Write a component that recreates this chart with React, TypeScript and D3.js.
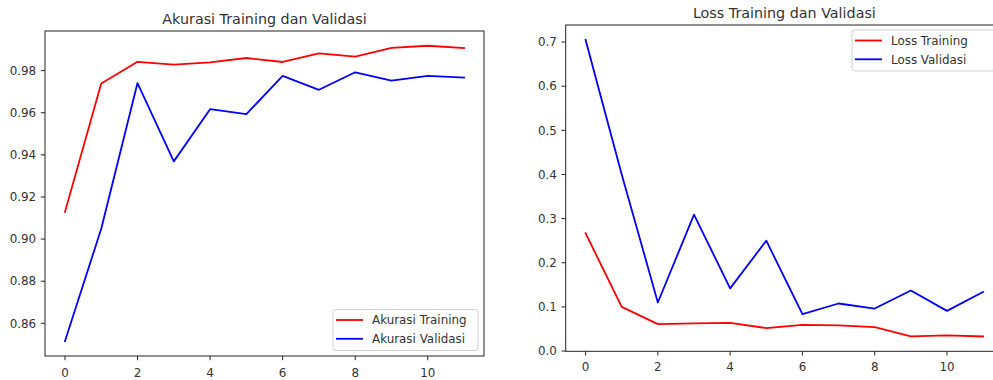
import React from "react";
import * as d3 from "d3";

const epochs = [0, 1, 2, 3, 4, 5, 6, 7, 8, 9, 10, 11];
const accTrain = [0.9129, 0.9739, 0.9842, 0.9828, 0.9839, 0.986, 0.9841, 0.9882, 0.9866, 0.9908, 0.9918, 0.9907];
const accVal = [0.8515, 0.9049, 0.9741, 0.9369, 0.9617, 0.9593, 0.9775, 0.9709, 0.9792, 0.9752, 0.9775, 0.9767];
const lossTrain = [0.267, 0.1, 0.061, 0.0625, 0.064, 0.052, 0.0594, 0.058, 0.054, 0.033, 0.0354, 0.033];
const lossVal = [0.705, 0.4, 0.11, 0.309, 0.142, 0.25, 0.0835, 0.1077, 0.0963, 0.137, 0.091, 0.134];
const xTicks = [0, 2, 4, 6, 8, 10];
const accTicks = [0.86, 0.88, 0.9, 0.92, 0.94, 0.96, 0.98];
const lossTicks = [0.0, 0.1, 0.2, 0.3, 0.4, 0.5, 0.6, 0.7];

const FONT = "DejaVu Sans, sans-serif";
const TICK_FS = 11.9;
const TITLE_FS = 14.3;
const TEXT = "#333";

type PanelProps = {
  box: { l: number; r: number; t: number; b: number };
  title: string;
  series: { name: string; values: number[]; color: string }[];
  yTicks: number[];
  yFmt: (v: number) => string;
  legend: "lower right" | "upper right";
  xLabelDy: number;
};

function pad(ext: [number, number]): [number, number] {
  const s = ext[1] - ext[0];
  return [ext[0] - 0.05 * s, ext[1] + 0.05 * s];
}

function Panel({ box, title, series, yTicks, yFmt, legend, xLabelDy }: PanelProps) {
  const all = series.flatMap((s) => s.values);
  const x = d3.scaleLinear().domain(pad(d3.extent(epochs) as [number, number])).range([box.l, box.r]);
  const y = d3.scaleLinear().domain(pad(d3.extent(all) as [number, number])).range([box.b, box.t]);
  const line = d3
    .line<number>()
    .x((_, i) => x(epochs[i]))
    .y((d) => y(d));
  const tickLen = 4.2;
  const lgW = 145;
  const lgH = 41;
  const lgX = box.r - 6 - lgW;
  const lgY = legend === "lower right" ? box.b - 5.5 - lgH : box.t + 5;
  const clipId = "clip-" + title.replace(/\s/g, "");
  return (
    <g>
      <defs>
        <clipPath id={clipId}>
          <rect x={box.l} y={box.t} width={box.r - box.l} height={box.b - box.t} />
        </clipPath>
      </defs>
      <text
        x={(box.l + box.r) / 2}
        y={box.t - 7.5}
        textAnchor="middle"
        fontSize={TITLE_FS}
        fontFamily={FONT}
        fill={TEXT}
      >
        {title}
      </text>
      <g clipPath={`url(#${clipId})`}>
        {series.map((s) => (
          <path key={s.name} d={line(s.values) || ""} fill="none" stroke={s.color} strokeWidth={1.8} strokeLinejoin="round" strokeLinecap="square" />
        ))}
      </g>
      <rect x={box.l} y={box.t} width={box.r - box.l} height={box.b - box.t} fill="none" stroke="#222" strokeWidth={1} />
      {xTicks.map((t) => (
        <g key={"x" + t}>
          <line x1={x(t)} x2={x(t)} y1={box.b} y2={box.b + tickLen} stroke="#222" strokeWidth={1} />
          <text x={x(t)} y={box.b + xLabelDy} textAnchor="middle" fontSize={TICK_FS} fontFamily={FONT} fill={TEXT}>
            {t}
          </text>
        </g>
      ))}
      {yTicks.map((t) => (
        <g key={"y" + t}>
          <line x1={box.l - tickLen} x2={box.l} y1={y(t)} y2={y(t)} stroke="#222" strokeWidth={1} />
          <text
            x={box.l - 8.8}
            y={y(t)}
            dy="0.36em"
            textAnchor="end"
            fontSize={TICK_FS}
            fontFamily={FONT}
            fill={TEXT}
          >
            {yFmt(t)}
          </text>
        </g>
      ))}
      <g>
        <rect x={lgX} y={lgY} width={lgW} height={lgH} rx={3} fill="white" fillOpacity={0.8} stroke="#d0d0d0" strokeWidth={1} />
        {series.map((s, i) => {
          const cy = lgY + 10.5 + i * 18.8;
          return (
            <g key={"lg" + s.name}>
              <line x1={lgX + 3} x2={lgX + 30} y1={cy} y2={cy} stroke={s.color} strokeWidth={1.8} />
              <text x={lgX + 39} y={cy} dy="0.36em" fontSize={TICK_FS} fontFamily={FONT} fill={TEXT}>
                {s.name}
              </text>
            </g>
          );
        })}
      </g>
    </g>
  );
}

export default function App() {
  return (
    <svg
      width={993}
      height={380}
      style={{ position: "absolute", left: 0, top: 0, background: "white" }}
    >
      <rect x={0} y={0} width={993} height={380} fill="white" />
      <Panel
        box={{ l: 45, r: 484, t: 31, b: 356 }}
        title="Akurasi Training dan Validasi"
        series={[
          { name: "Akurasi Training", values: accTrain, color: "#ff0000" },
          { name: "Akurasi Validasi", values: accVal, color: "#0000ff" },
        ]}
        yTicks={accTicks}
        yFmt={(v) => v.toFixed(2)}
        legend="lower right"
        xLabelDy={21}
      />
      <Panel
        box={{ l: 565.7, r: 1003, t: 25, b: 351.3 }}
        title="Loss Training dan Validasi"
        series={[
          { name: "Loss Training", values: lossTrain, color: "#ff0000" },
          { name: "Loss Validasi", values: lossVal, color: "#0000ff" },
        ]}
        yTicks={lossTicks}
        yFmt={(v) => v.toFixed(1)}
        legend="upper right"
        xLabelDy={20}
      />
    </svg>
  );
}
